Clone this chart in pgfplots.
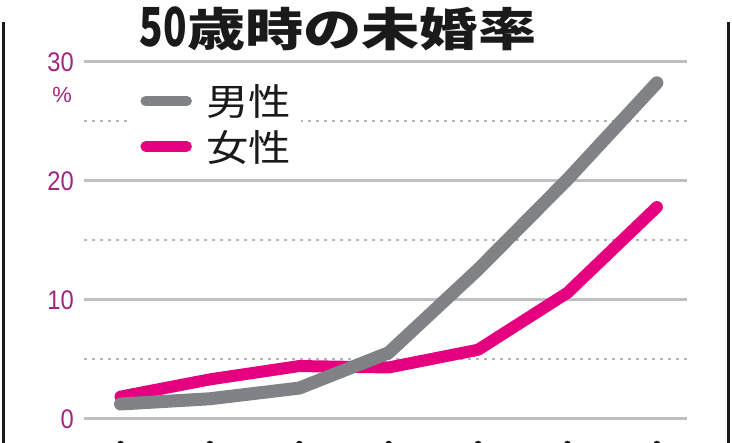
\documentclass[border=0pt]{standalone}
\usepackage{pgfplots}
\pgfplotsset{compat=1.18}
\usepackage{fontspec}
\setmainfont{Liberation Sans}
\newfontfamily\cjk{Noto Sans CJK JP}
\definecolor{manline}{HTML}{808285}
\definecolor{womanline}{HTML}{E4007F}
\definecolor{ticklab}{HTML}{A0267F}
\definecolor{gridc}{HTML}{BFBFBF}
\definecolor{dotc}{HTML}{B4B4B4}
\definecolor{ink}{HTML}{1A1A1A}

\begin{document}
\begin{tikzpicture}
\begin{axis}[
    name=ax,
    width=732bp, height=443bp,
    scale only axis,
    xmin=-1.348, xmax=6.840,
    ymin=-2.017, ymax=35.21,
    axis line style={draw=none},
    xtick=\empty,
    ytick={0,10,20,30},
    major tick length=0pt,
    /pgf/number format/assume math mode=true,
    yticklabel style={anchor=east, inner sep=0pt, xshift=74bp,
        text=ticklab, font=\fontsize{27}{27}\selectfont},
    yticklabel={\scalebox{0.88}[1]{\pgfmathprintnumber{\tick}}},
    clip=false,
    reverse legend,
    legend cell align=left,
    legend style={
        at={(axis cs:0.106,28.45)}, anchor=north west,
        draw=none, fill=white,
        inner xsep=10bp, inner ysep=4bp,
        nodes={scale=1, inner sep=0bp},
        row sep=13bp,
        /tikz/every odd column/.style={column sep=14bp},
        font=\cjk\fontsize{37}{37}\selectfont, text=ink
    },
    legend image code/.code={
        \path[draw=none, fill=none] (-5.5bp,-5.5bp) rectangle (46.5bp,5.5bp);
        \draw[#1, line width=10.5bp, line cap=round] (0bp,0bp) -- (41bp,0bp);
    },
]
% grid
\pgfplotsinvokeforeach{0,10,20,30}{
    \draw[gridc, line width=3bp] (axis cs:-0.408,#1) -- (axis cs:6.336,#1);
}
\pgfplotsinvokeforeach{5,15,25}{
    \draw[dotc, line width=2bp, dash pattern=on 3bp off 5bp]
        (axis cs:-0.408,#1) -- (axis cs:6.336,#1);
}

% data
\addplot[womanline, line width=12bp, line cap=round, line join=round]
    coordinates {(0,1.88) (1,3.33) (2,4.45) (3,4.33) (4,5.82) (5,10.61) (6,17.81)};
\addlegendentry{\scalebox{1.15}[1]{女性}}
\addplot[manline, line width=13bp, line cap=round, line join=round]
    coordinates {(0,1.26) (1,1.70) (2,2.60) (3,5.57) (4,12.57) (5,20.14) (6,28.25)};
\addlegendentry{\scalebox{1.15}[1]{男性}}

% unit, frame, title
\node[text=ticklab, font=\fontsize{22}{22}\selectfont] at (axis cs:-0.654,27.2) {\%};
\draw[ink, line width=2.5bp] (axis cs:-1.309,33.36) -- (axis cs:-1.309,-2.3);
\draw[ink, line width=2.5bp] (axis cs:6.801,33.36) -- (axis cs:6.801,-2.3);
\pgfplotsinvokeforeach{0,...,6}{
    \fill[ink] (axis cs:#1,-2.12) circle[radius=3.5bp];
}
\node[text=ink, anchor=base, inner sep=0pt] at (axis cs:2.433,31.34)
    {\cjk\bfseries\fontsize{54}{54}\selectfont\scalebox{0.72}[1]{50}%
     \fontsize{46}{46}\selectfont\scalebox{1.27}[1]{歳時の未婚率}};
\end{axis}
\pgfresetboundingbox
\path[use as bounding box] (ax.south west) rectangle (ax.north east);
\end{tikzpicture}
\end{document}
